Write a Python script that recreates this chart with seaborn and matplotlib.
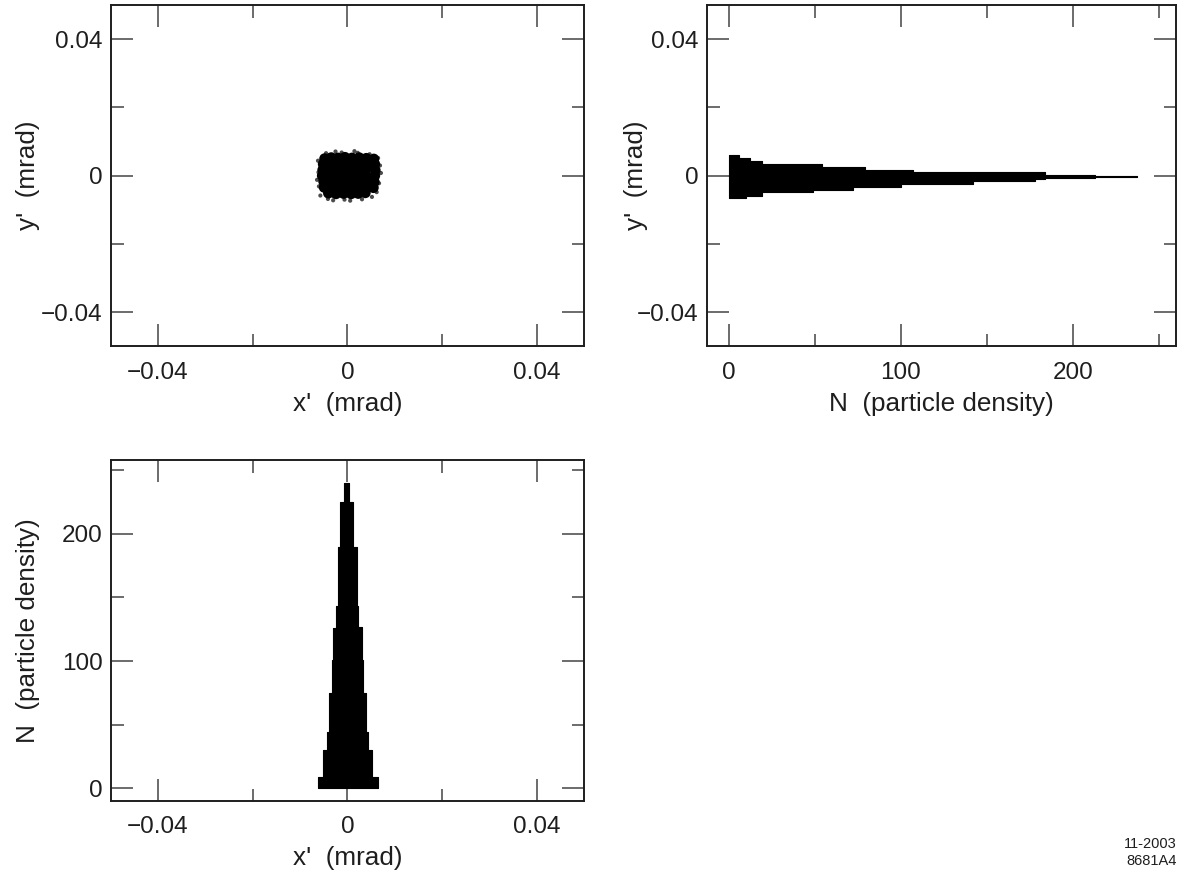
import matplotlib
matplotlib.use("Agg")
import matplotlib.pyplot as plt
import seaborn as sns
import pandas as pd
from matplotlib.ticker import FixedLocator, FixedFormatter

# ---------------- data ----------------
# scatter of particles in x'-y' (mrad): dense core
core_x = [-0.0048, -0.0034, -0.0020, -0.0005, 0.0010, 0.0025, 0.0040, 0.0056,
          -0.0051, -0.0035, -0.0019, -0.0004, 0.0011, 0.0026, 0.0041, 0.0058,
          -0.0052, -0.0036, -0.0021, -0.0006, 0.0009, 0.0024, 0.0039, 0.0059,
          -0.0053, -0.0037, -0.0020, -0.0005, 0.0010, 0.0025, 0.0040, 0.0058,
          -0.0050, -0.0035, -0.0019, -0.0004, 0.0011, 0.0026, 0.0041, 0.0057,
          -0.0049, -0.0034, -0.0020, -0.0005, 0.0010, 0.0025, 0.0040, 0.0055,
          -0.0040, -0.0024, -0.0008, 0.0008, 0.0023, 0.0038]
core_y = [0.0050, 0.0053, 0.0052, 0.0054, 0.0052, 0.0053, 0.0051, 0.0049,
          0.0034, 0.0035, 0.0033, 0.0034, 0.0035, 0.0034, 0.0033, 0.0034,
          0.0017, 0.0016, 0.0018, 0.0017, 0.0016, 0.0017, 0.0018, 0.0016,
          0.0000, 0.0001, -0.0001, 0.0000, 0.0001, 0.0000, -0.0001, 0.0000,
          -0.0017, -0.0018, -0.0016, -0.0017, -0.0018, -0.0017, -0.0016, -0.0018,
          -0.0034, -0.0035, -0.0033, -0.0034, -0.0035, -0.0034, -0.0033, -0.0035,
          -0.0051, -0.0053, -0.0052, -0.0053, -0.0052, -0.0050]
# sparse fringe particles
fringe_x = [-0.0062, -0.0060, -0.0061, -0.0064, 0.0069, 0.0067, 0.0071, 0.0065,
            -0.0045, -0.0012, 0.0022, 0.0047, -0.0041, -0.0006, 0.0031, 0.0052,
            -0.0057, 0.0062, -0.0025, 0.0015, -0.0030, 0.0006]
fringe_y = [0.0044, -0.0031, 0.0010, -0.0012, 0.0030, -0.0022, 0.0008, 0.0052,
            0.0066, 0.0068, 0.0067, 0.0063, -0.0068, -0.0070, -0.0069, -0.0062,
            -0.0058, -0.0048, 0.0071, 0.0072, -0.0072, -0.0073]

# y' particle-density histogram (bin edges in mrad, counts N)
y_edges = [-0.00653, -0.00586, -0.00486, -0.00410, -0.00340, -0.00243, -0.00164,
           -0.00097, -0.00067, -0.00035, 0.00003, 0.00029, 0.00100, 0.00182,
           0.00255, 0.00352, 0.00422, 0.00519, 0.00598]
y_counts = [10, 19, 49, 72, 100, 142, 178, 184, 213, 237, 213, 184, 107, 79, 54, 19, 12, 6]

# x' particle-density histogram
x_edges = [-0.00630, -0.00519, -0.00435, -0.00378, -0.00330, -0.00294, -0.00239,
           -0.00193, -0.00155, -0.00071, 0.00042, 0.00126, 0.00195, 0.00231,
           0.00300, 0.00336, 0.00391, 0.00441, 0.00511, 0.00651]
x_counts = [9, 30, 44, 75, 101, 126, 143, 190, 225, 240, 225, 190, 143, 127, 101, 75, 44, 30, 9]

mrad_ticks = [-0.04, 0.0, 0.04]
mrad_labels = ["\u22120.04", "0", "0.04"]
mrad_minor = [-0.02, 0.02]
n_ticks = [0, 100, 200]
n_labels = ["0", "100", "200"]
n_minor = [50, 150, 250]

# ---------------- style ----------------
sns.set_theme(style="ticks")
plt.rcParams["font.family"] = ["Liberation Sans", "DejaVu Sans"]
ink = "#1e1e1e"
plt.rcParams["text.color"] = ink
plt.rcParams["axes.labelcolor"] = ink
FS = 17.5
LFS = 18.8

fig = plt.figure(figsize=(11.77, 8.73), dpi=100)
fig.patch.set_facecolor("white")

ax1 = fig.add_axes([0.0941, 0.6031, 0.4020, 0.3912])
ax2 = fig.add_axes([0.6004, 0.6031, 0.3988, 0.3912])
ax3 = fig.add_axes([0.0941, 0.0825, 0.4020, 0.3906])


def style_axes(ax):
    for sp in ax.spines.values():
        sp.set_linewidth(1.4)
        sp.set_color(ink)
    ax.tick_params(which="both", direction="in", top=True, right=True,
                   bottom=True, left=True, color="#444444", width=1.1,
                   labelsize=FS, labelcolor=ink)
    ax.tick_params(which="major", length=16)
    ax.tick_params(which="minor", length=9)
    ax.tick_params(axis="x", which="major", pad=11)
    ax.tick_params(axis="y", which="major", pad=6)
    ax.grid(False)


def set_mrad(axis):
    axis.set_major_locator(FixedLocator(mrad_ticks))
    axis.set_major_formatter(FixedFormatter(mrad_labels))
    axis.set_minor_locator(FixedLocator(mrad_minor))


def set_n(axis):
    axis.set_major_locator(FixedLocator(n_ticks))
    axis.set_major_formatter(FixedFormatter(n_labels))
    axis.set_minor_locator(FixedLocator(n_minor))


# ---- top-left: scatter ----
core = pd.DataFrame({"x": core_x, "y": core_y})
fringe = pd.DataFrame({"x": fringe_x, "y": fringe_y})
sns.scatterplot(data=core, x="x", y="y", ax=ax1, s=60, color="black",
                edgecolor="none", linewidth=0)
sns.scatterplot(data=fringe, x="x", y="y", ax=ax1, s=9, color="black",
                edgecolor="none", linewidth=0, alpha=0.7)
ax1.set_xlim(-0.05, 0.05)
ax1.set_ylim(-0.05, 0.05)
set_mrad(ax1.xaxis)
set_mrad(ax1.yaxis)
ax1.set_xlabel("x'  (mrad)", fontsize=LFS)
ax1.set_ylabel("y'  (mrad)", fontsize=LFS)
style_axes(ax1)

# ---- top-right: horizontal histogram of y' ----
yc = [(a + b) / 2 for a, b in zip(y_edges[:-1], y_edges[1:])]
sns.histplot(y=yc, weights=y_counts, bins=y_edges, ax=ax2, element="step",
             fill=True, color="black", alpha=1.0, linewidth=0.8, edgecolor="black")
ax2.set_xlim(-13, 260)
ax2.set_ylim(-0.05, 0.05)
set_n(ax2.xaxis)
set_mrad(ax2.yaxis)
ax2.set_xlabel("N  (particle density)", fontsize=LFS)
ax2.set_ylabel("y'  (mrad)", fontsize=LFS)
style_axes(ax2)

# ---- bottom-left: histogram of x' ----
xc = [(a + b) / 2 for a, b in zip(x_edges[:-1], x_edges[1:])]
sns.histplot(x=xc, weights=x_counts, bins=x_edges, ax=ax3, element="step",
             fill=True, color="black", alpha=1.0, linewidth=0.8, edgecolor="black")
ax3.set_xlim(-0.05, 0.05)
ax3.set_ylim(-10, 258)
set_mrad(ax3.xaxis)
set_n(ax3.yaxis)
ax3.set_xlabel("x'  (mrad)", fontsize=LFS)
ax3.set_ylabel("N  (particle density)", fontsize=LFS)
style_axes(ax3)

for ax in (ax1, ax3):
    ax.xaxis.set_label_coords(0.5, -0.133)
    ax.yaxis.set_label_coords(-0.15, 0.5)
ax2.xaxis.set_label_coords(0.5, -0.133)
ax2.yaxis.set_label_coords(-0.125, 0.5)

fig.text(0.9995, 0.0235, "11-2003\n8681A4", ha="right", va="center",
         fontsize=10.5, family=["Liberation Sans Narrow", "Liberation Sans", "DejaVu Sans"],
         color=ink, linespacing=1.25)

fig.savefig("out.png", dpi=100, facecolor="white")
